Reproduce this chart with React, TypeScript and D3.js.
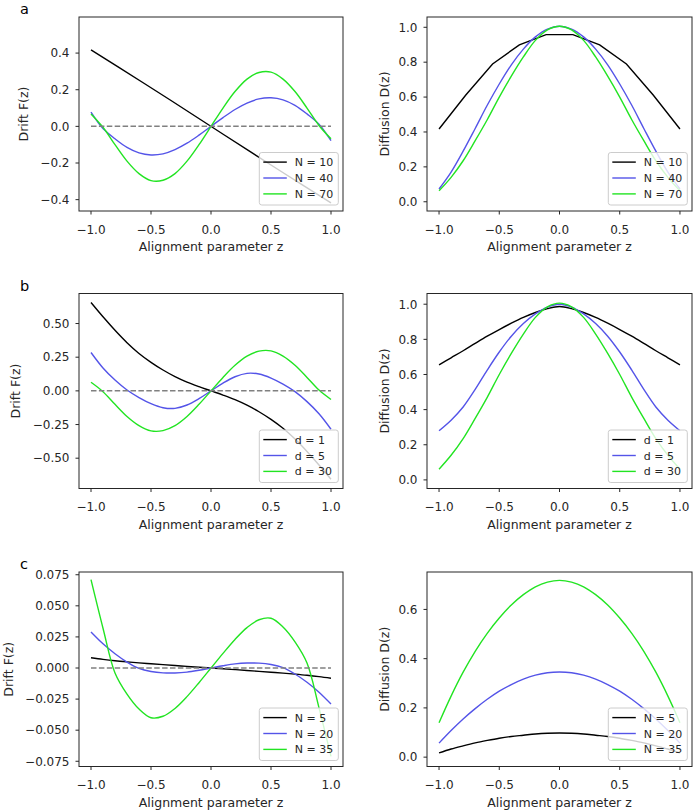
import React from "react";
import * as d3 from "d3";

// ---------- data ----------
const Z = [-1, -0.9, -0.8, -0.7, -0.6, -0.5, -0.4, -0.3, -0.2, -0.1, 0, 0.1, 0.2, 0.3, 0.4, 0.5, 0.6, 0.7, 0.8, 0.9, 1];
const Z10 = [-1, -0.7778, -0.5556, -0.3333, -0.1111, 0.1111, 0.3333, 0.5556, 0.7778, 1];

// panel a (N = 10, 40, 70)
const driftA_N10 = [0.418, 0.326, 0.234, 0.141, 0.047, -0.047, -0.141, -0.234, -0.326, -0.418];
const driftA_N40 = [0.078, -0.012, -0.068, -0.115, -0.145, -0.156, -0.15, -0.127, -0.092, -0.048, 0, 0.048, 0.092, 0.127, 0.15, 0.156, 0.145, 0.115, 0.068, 0.012, -0.078];
const driftA_N70 = [0.068, -0.005, -0.1, -0.19, -0.258, -0.296, -0.294, -0.258, -0.19, -0.1, 0, 0.1, 0.19, 0.258, 0.294, 0.296, 0.258, 0.19, 0.1, 0.005, -0.068];
const diffA_N10 = [0.417, 0.612, 0.79, 0.899, 0.958, 0.958, 0.899, 0.79, 0.612, 0.417];
const diffA_N40 = [0.073, 0.17, 0.29, 0.42, 0.553, 0.675, 0.785, 0.875, 0.945, 0.99, 1.006, 0.99, 0.945, 0.875, 0.785, 0.675, 0.553, 0.42, 0.29, 0.17, 0.073];
const diffA_N70 = [0.063, 0.14, 0.235, 0.35, 0.47, 0.6, 0.72, 0.83, 0.925, 0.985, 1.006, 0.985, 0.925, 0.83, 0.72, 0.6, 0.47, 0.35, 0.235, 0.14, 0.063];

// panel b (d = 1, 5, 30)
const driftB_d1 = [0.656, 0.55, 0.45, 0.358, 0.278, 0.212, 0.155, 0.106, 0.065, 0.031, 0, -0.031, -0.065, -0.106, -0.155, -0.212, -0.278, -0.358, -0.45, -0.55, -0.656];
const driftB_d5 = [0.285, 0.17, 0.08, 0.006, -0.05, -0.095, -0.125, -0.13, -0.105, -0.058, 0, 0.058, 0.105, 0.13, 0.125, 0.095, 0.05, -0.006, -0.08, -0.17, -0.285];
const driftB_d30 = [0.064, -0.006, -0.1, -0.19, -0.258, -0.297, -0.295, -0.258, -0.19, -0.1, 0, 0.1, 0.19, 0.258, 0.295, 0.297, 0.258, 0.19, 0.1, 0.006, -0.064];
const diffB_d1 = [0.655, 0.695, 0.735, 0.777, 0.818, 0.856, 0.892, 0.925, 0.953, 0.975, 0.987, 0.975, 0.953, 0.925, 0.892, 0.856, 0.818, 0.777, 0.735, 0.695, 0.655];
const diffB_d5 = [0.28, 0.34, 0.415, 0.515, 0.625, 0.728, 0.818, 0.89, 0.945, 0.984, 1.0, 0.984, 0.945, 0.89, 0.818, 0.728, 0.625, 0.515, 0.415, 0.34, 0.28];
const diffB_d30 = [0.061, 0.14, 0.235, 0.35, 0.47, 0.6, 0.72, 0.83, 0.925, 0.985, 1.006, 0.985, 0.925, 0.83, 0.72, 0.6, 0.47, 0.35, 0.235, 0.14, 0.061];

// panel c (N = 5, 20, 35)
const driftC_N5 = [0.0082, 0.0069, 0.0058, 0.0049, 0.0041, 0.0034, 0.0027, 0.002, 0.0013, 0.0006, 0, -0.0006, -0.0013, -0.002, -0.0027, -0.0034, -0.0041, -0.0049, -0.0058, -0.0069, -0.0082];
const driftC_N20 = [0.029, 0.0195, 0.0115, 0.0048, -0.0003, -0.0028, -0.0039, -0.004, -0.0033, -0.0018, 0, 0.0018, 0.0033, 0.004, 0.0039, 0.0028, 0.0003, -0.0048, -0.0115, -0.0195, -0.029];
const driftC_N35 = [0.071, 0.032, -0.004, -0.021, -0.033, -0.04, -0.0388, -0.0325, -0.023, -0.0118, 0, 0.0118, 0.023, 0.0325, 0.0388, 0.04, 0.033, 0.021, 0.004, -0.032, -0.071];
const diffC_N5 = [0.017, 0.033, 0.046, 0.058, 0.068, 0.077, 0.084, 0.089, 0.094, 0.097, 0.098, 0.097, 0.094, 0.089, 0.084, 0.077, 0.068, 0.058, 0.046, 0.033, 0.017];
const diffC_N20 = [0.057, 0.108, 0.155, 0.197, 0.235, 0.268, 0.295, 0.317, 0.333, 0.343, 0.346, 0.343, 0.333, 0.317, 0.295, 0.268, 0.235, 0.197, 0.155, 0.108, 0.057];
const diffC_N35 = [0.14, 0.248, 0.345, 0.43, 0.503, 0.565, 0.618, 0.66, 0.692, 0.711, 0.718, 0.711, 0.692, 0.66, 0.618, 0.565, 0.503, 0.43, 0.345, 0.248, 0.14];

const legendA = ["N = 10", "N = 40", "N = 70"];
const legendB = ["d = 1", "d = 5", "d = 30"];
const legendC = ["N = 5", "N = 20", "N = 35"];

const xTicks = [-1, -0.5, 0, 0.5, 1];
const yTicksDriftA = [-0.4, -0.2, 0, 0.2, 0.4];
const yTicksDriftB = [-0.5, -0.25, 0, 0.25, 0.5];
const yTicksDriftC = [-0.075, -0.05, -0.025, 0, 0.025, 0.05, 0.075];
const yTicksDiffAB = [0, 0.2, 0.4, 0.6, 0.8, 1.0];
const yTicksDiffC = [0, 0.2, 0.4, 0.6];

// ---------- styling ----------
const COLORS = ["#000000", "#5454e8", "#22e422"];
const FONT = "DejaVu Sans";
const AX = "#262626";

type Series = { z: number[]; v: number[]; linear?: boolean };

type PanelProps = {
  left: number;
  top: number;
  width: number;
  height: number;
  yDomain: [number, number];
  yTicks: number[];
  yFmt: string;
  ylabel: string;
  ylabelX: number;
  series: Series[];
  legend: string[];
  dashed: boolean;
  letter?: string;
  letterY?: number;
};

function Panel(p: PanelProps) {
  const x = d3.scaleLinear().domain([-1.1, 1.1]).range([p.left, p.left + p.width]);
  const y = d3.scaleLinear().domain(p.yDomain).range([p.top + p.height, p.top]);
  const bottom = p.top + p.height;
  const right = p.left + p.width;
  const fmtY = d3.format(p.yFmt);
  const fmtX = d3.format(".1f");
  const lg = { w: 79, h: 52.5 };
  const lgx = right - 4.7 - lg.w;
  const lgy = bottom - 6 - lg.h;
  const clipId = `clip-${p.left}-${Math.round(p.top)}`;
  return (
    <g>
      <defs>
        <clipPath id={clipId}>
          <rect x={p.left} y={p.top} width={p.width} height={p.height} />
        </clipPath>
      </defs>
      <g clipPath={`url(#${clipId})`}>
        {p.series.map((s, i) => {
          const line = d3
            .line<number>()
            .x((_, j) => x(s.z[j]))
            .y((d) => y(d))
            .curve(s.linear ? d3.curveLinear : d3.curveCatmullRom.alpha(0.5));
          return (
            <path key={i} d={line(s.v) || ""} fill="none" stroke={COLORS[i]} strokeWidth={1.4} />
          );
        })}
        {p.dashed ? (
          <line
            x1={x(-1)}
            x2={x(1)}
            y1={y(0)}
            y2={y(0)}
            stroke="#808080"
            strokeWidth={1.5}
            strokeDasharray="5.5,2.4"
          />
        ) : null}
      </g>
      <rect x={p.left} y={p.top} width={p.width} height={p.height} fill="none" stroke={AX} strokeWidth={1} />
      {xTicks.map((t) => (
        <g key={"x" + t}>
          <line x1={x(t)} x2={x(t)} y1={bottom} y2={bottom + 3.5} stroke={AX} strokeWidth={1} />
          <text x={x(t)} y={bottom + 22.5} textAnchor="middle" fontSize={12} fontFamily={FONT} fill={AX}>
            {fmtX(t)}
          </text>
        </g>
      ))}
      {p.yTicks.map((t) => (
        <g key={"y" + t}>
          <line x1={p.left - 3.5} x2={p.left} y1={y(t)} y2={y(t)} stroke={AX} strokeWidth={1} />
          <text x={p.left - 9.5} y={y(t) + 4.3} textAnchor="end" fontSize={12} fontFamily={FONT} fill={AX}>
            {fmtY(t)}
          </text>
        </g>
      ))}
      <text x={(p.left + right) / 2} y={bottom + 40} textAnchor="middle" fontSize={12.5} fontFamily={FONT} fill={AX}>
        Alignment parameter z
      </text>
      <text
        transform={`translate(${p.ylabelX + 4.5},${(p.top + bottom) / 2}) rotate(-90)`}
        textAnchor="middle"
        fontSize={12.5}
        fontFamily={FONT}
        fill={AX}
      >
        {p.ylabel}
      </text>
      <rect x={lgx} y={lgy} width={lg.w} height={lg.h} rx={2.5} fill="#ffffff" fillOpacity={0.8} stroke="#cccccc" strokeWidth={1} />
      {p.legend.map((l, i) => (
        <g key={l}>
          <line x1={lgx + 4} x2={lgx + 27.5} y1={lgy + 9.6 + i * 15.9} y2={lgy + 9.6 + i * 15.9} stroke={COLORS[i]} strokeWidth={1.4} />
          <text x={lgx + 35.5} y={lgy + 9.6 + i * 15.9 + 4} fontSize={11} fontFamily={FONT} fill={AX}>
            {l}
          </text>
        </g>
      ))}
      {p.letter ? (
        <text x={20} y={p.letterY} fontSize={14.5} fontFamily={FONT} fill="#000">
          {p.letter}
        </text>
      ) : null}
    </g>
  );
}

export default function App() {
  const L = 79, R = 427, WL = 264, WR = 265;
  return (
    <svg width={696} height={810} style={{ position: "absolute", left: 0, top: 0, background: "#fff" }}>
      <rect x={0} y={0} width={696} height={810} fill="#fff" />
      <Panel left={L} top={17} width={WL} height={194} yDomain={[-0.462, 0.597]} yTicks={yTicksDriftA} yFmt=".1f"
        ylabel="Drift F(z)" ylabelX={23} legend={legendA} letter="a" letterY={13.5} dashed={true}
        series={[{ z: Z10, v: driftA_N10, linear: true }, { z: Z, v: driftA_N40 }, { z: Z, v: driftA_N70 }]} />
      <Panel left={R} top={17} width={WR} height={194} yDomain={[-0.053, 1.059]} yTicks={yTicksDiffAB} yFmt=".1f"
        ylabel="Diffusion D(z)" ylabelX={384} legend={legendA} dashed={false}
        series={[{ z: Z10, v: diffA_N10, linear: true }, { z: Z, v: diffA_N40 }, { z: Z, v: diffA_N70 }]} />
      <Panel left={L} top={293.5} width={WL} height={195} yDomain={[-0.725, 0.723]} yTicks={yTicksDriftB} yFmt=".2f"
        ylabel="Drift F(z)" ylabelX={15} legend={legendB} letter="b" letterY={291} dashed={true}
        series={[{ z: Z, v: driftB_d1 }, { z: Z, v: driftB_d5 }, { z: Z, v: driftB_d30 }]} />
      <Panel left={R} top={293.5} width={WR} height={195} yDomain={[-0.049, 1.061]} yTicks={yTicksDiffAB} yFmt=".1f"
        ylabel="Diffusion D(z)" ylabelX={384} legend={legendB} dashed={false}
        series={[{ z: Z, v: diffB_d1 }, { z: Z, v: diffB_d5 }, { z: Z, v: diffB_d30 }]} />
      <Panel left={L} top={572} width={WL} height={194.5} yDomain={[-0.0792, 0.0772]} yTicks={yTicksDriftC} yFmt=".3f"
        ylabel="Drift F(z)" ylabelX={8} legend={legendC} letter="c" letterY={568.5} dashed={true}
        series={[{ z: Z, v: driftC_N5 }, { z: Z, v: driftC_N20 }, { z: Z, v: driftC_N35 }]} />
      <Panel left={R} top={572} width={WR} height={194.5} yDomain={[-0.038, 0.752]} yTicks={yTicksDiffC} yFmt=".1f"
        ylabel="Diffusion D(z)" ylabelX={384} legend={legendC} dashed={false}
        series={[{ z: Z, v: diffC_N5 }, { z: Z, v: diffC_N20 }, { z: Z, v: diffC_N35 }]} />
    </svg>
  );
}
